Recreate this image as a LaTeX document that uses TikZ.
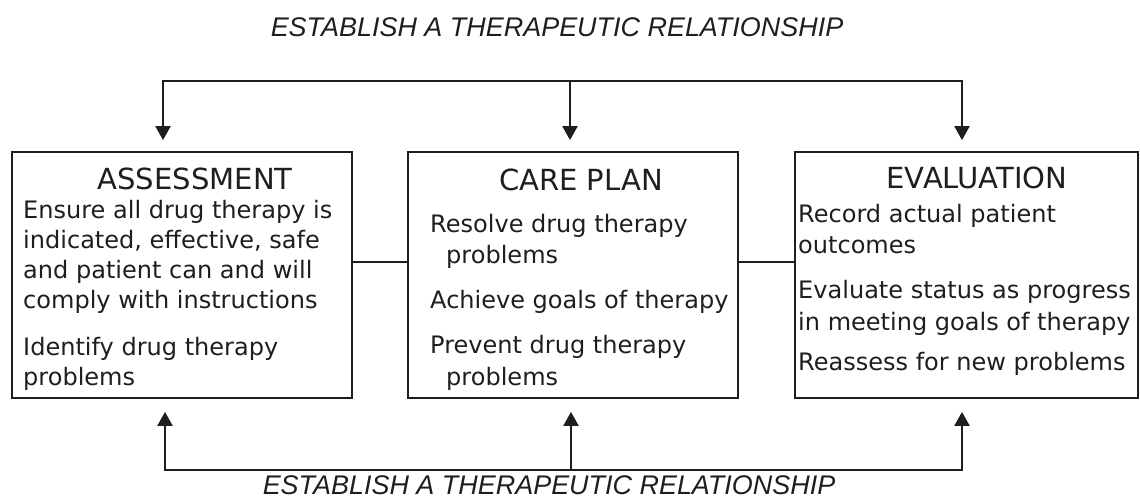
\documentclass[tikz,border=0pt]{standalone}
\usepackage{fontspec}
\setmainfont{DejaVu Sans}
\newfontfamily\labelfont{Liberation Sans}
\usetikzlibrary{arrows.meta, positioning, calc}
\definecolor{inkDark}{HTML}{1E1E1E}

\begin{document}
\begin{tikzpicture}[x=0.03cm, y=-0.03cm,
    stage/.style={rectangle, draw=inkDark, line width=1.5pt,
      minimum height=7.38cm, inner sep=0pt},
    stagehead/.style={font=\fontsize{24.8}{28}\selectfont, text=inkDark,
      inner sep=0pt, anchor=base},
    stagetext/.style={font=\fontsize{20.5}{25}\selectfont, text=inkDark,
      inner sep=0pt, anchor=base west},
    banner/.style={font=\labelfont\itshape\fontsize{23}{26}\selectfont,
      text=inkDark, inner sep=0pt, anchor=base},
    link/.style={draw=inkDark, line width=1.4pt, line cap=rect},
    flow/.style={link, -{Triangle[length=12pt, width=13pt]}}]
  \useasboundingbox (0,0) rectangle (1140,500);

  % the three stages
  \node[stage, minimum width=10.2cm] (assess) at (182,275) {};
  \node[stage, minimum width=9.9cm] (care) at (573,275) {};
  \node[stage, minimum width=10.29cm] (eval) at (966.5,275) {};

  \node[stagehead] (assessH) at (195,189) {ASSESSMENT};
  \node[stagehead] (careH) at (581,190) {CARE PLAN};
  \node[stagehead] (evalH) at (977,188) {EVALUATION};

  \foreach \t/\xx/\yy [count=\i] in {
      {Ensure all drug therapy is}/23/218,
      {indicated, effective, safe}/23/248,
      {and patient can and will}/23/278,
      {comply with instructions}/23/308,
      {Identify drug therapy}/23/355,
      {problems}/23/385}
    \node[stagetext] (a\i) at (\xx,\yy) {\t};

  \foreach \t/\xx/\yy [count=\i] in {
      {Resolve drug therapy}/430/232,
      {problems}/446/263,
      {Achieve goals of therapy}/430/308,
      {Prevent drug therapy}/430/353,
      {problems}/446/385}
    \node[stagetext] (c\i) at (\xx,\yy) {\t};

  \foreach \t/\xx/\yy [count=\i] in {
      {Record actual patient}/798/222,
      {outcomes}/798/253,
      {Evaluate status as progress}/798/298,
      {in meeting goals of therapy}/798/330,
      {Reassess for new problems}/798/370}
    \node[stagetext] (e\i) at (\xx,\yy) {\t};

  % side links
  \draw[link] ([yshift=0.39cm]assess.east) -- ([yshift=0.39cm]care.west);
  \draw[link] ([yshift=0.39cm]care.east) -- ([yshift=0.39cm]eval.west);

  % relationship banners
  \node[banner] (top) at (557,36) {ESTABLISH A THERAPEUTIC RELATIONSHIP};
  \node[banner] (bot) at (549,494) {ESTABLISH A THERAPEUTIC RELATIONSHIP};

  \coordinate (tl) at (163,81);
  \coordinate (tm) at (570,81);
  \coordinate (tr) at (962,81);
  \coordinate (bl) at (165,470);
  \coordinate (bm) at (571,470);
  \coordinate (br) at (962,470);

  \draw[link] (tl) -- (tr);
  \draw[flow, shorten >=0.33cm] (tl) -- (tl |- assess.north);
  \draw[flow, shorten >=0.33cm] (tm) -- (tm |- care.north);
  \draw[flow, shorten >=0.33cm] (tr) -- (tr |- eval.north);

  \draw[link] (bl) -- (br);
  \draw[flow, shorten >=0.39cm] (bl) -- (bl |- assess.south);
  \draw[flow, shorten >=0.39cm] (bm) -- (bm |- care.south);
  \draw[flow, shorten >=0.39cm] (br) -- (br |- eval.south);
\end{tikzpicture}
\end{document}
